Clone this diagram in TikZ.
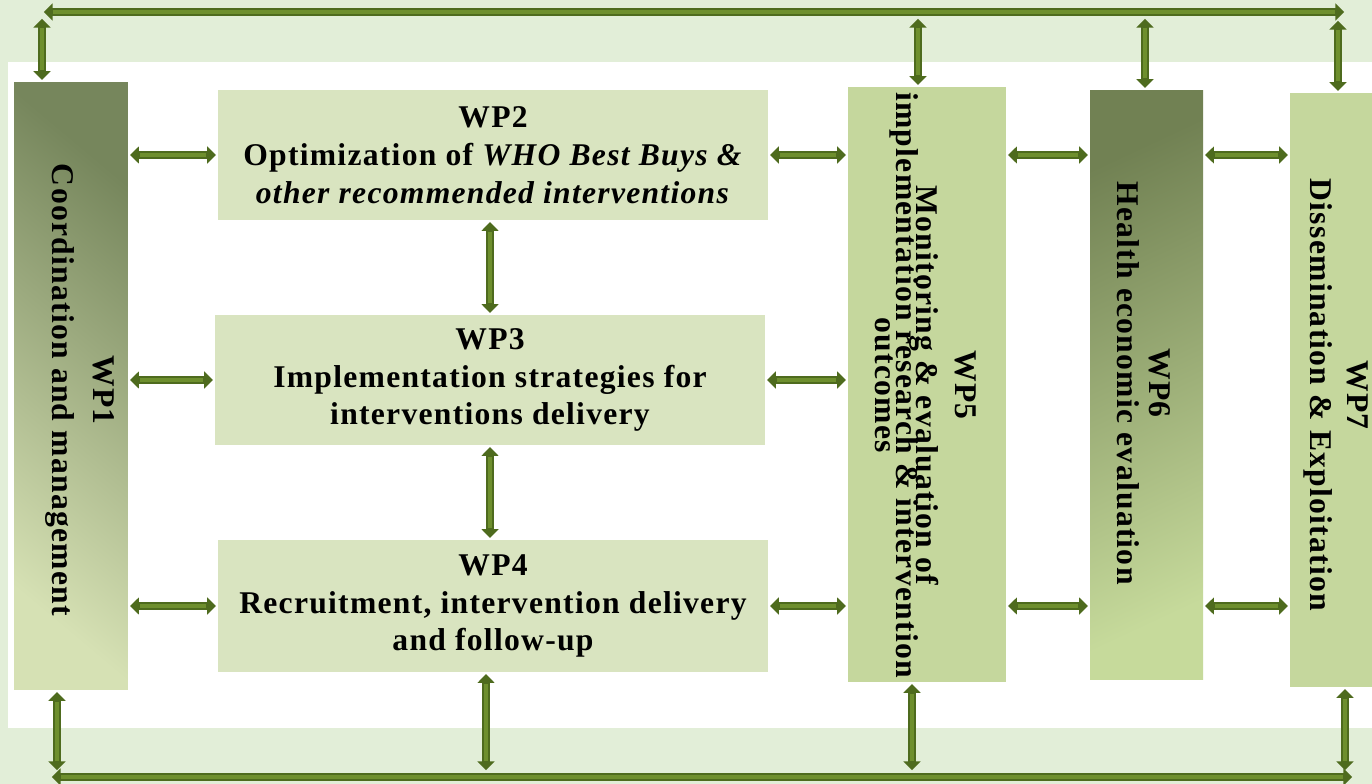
\documentclass[tikz,border=0pt]{standalone}
\usepackage{fontspec}
\setmainfont{Liberation Serif}[LetterSpace=4]
\usetikzlibrary{arrows.meta}
\definecolor{bg}{HTML}{E2EED8}
\definecolor{boxa}{HTML}{D9E4C0}
\definecolor{boxb}{HTML}{C5D79D}
\definecolor{arrdk}{HTML}{4E6B1E}
\definecolor{arrlt}{HTML}{6E8F2E}
\definecolor{wpdk}{HTML}{76865C}
\definecolor{wplt}{HTML}{D6E1B4}
\definecolor{sixdk}{HTML}{718153}
\definecolor{sixlt}{HTML}{C6DA9B}
\tikzset{
  dbl/.style={draw=arrdk, line width=4.5pt,
    {Triangle[length=5pt,width=9.5pt]}-{Triangle[length=5pt,width=9.5pt]},
    shorten <=1pt, shorten >=1pt,
    postaction={draw=arrlt, line width=1.8pt, -, shorten <=6.5pt, shorten >=6.5pt}},
  wpbox/.style={draw=none, inner sep=0pt, align=center,
    font=\fontsize{18}{21.5}\selectfont\bfseries},
  vtext/.style={rotate=-90, align=center, inner sep=0pt}
}
\begin{document}
\begin{tikzpicture}[x=0.02cm,y=-0.02cm]
\useasboundingbox (0,0) rectangle (1372,784);
\clip (0,0) rectangle (1372,784);
\fill[bg] (0,0) rectangle (1372,784);
\fill[white] (8,62) rectangle (1372,728);

% boxes
\node[wpbox, top color=wpdk, bottom color=wplt, shading angle=-40,
  minimum width=2.28cm, minimum height=12.16cm] (wp1) at (71,386) {};
\node[wpbox, fill=boxa, minimum width=11cm, minimum height=2.6cm] (wp2) at (493,155)
  {WP2\\Optimization of \textit{WHO Best Buys \&}\\\textit{other recommended interventions}};
\node[wpbox, fill=boxa, minimum width=11cm, minimum height=2.6cm] (wp3) at (490,380)
  {WP3\\Implementation strategies for\\interventions delivery};
\node[wpbox, fill=boxa, minimum width=11cm, minimum height=2.64cm] (wp4) at (493,606)
  {WP4\\Recruitment, intervention delivery\\and follow-up};
\node[wpbox, fill=boxb, minimum width=3.16cm, minimum height=11.9cm] (wp5) at (927,384.5) {};
\node[wpbox, top color=sixdk, bottom color=sixlt, shading angle=25,
  minimum width=2.26cm, minimum height=11.8cm] (wp6) at (1146.5,385) {};
\node[wpbox, fill=boxb, minimum width=3.2cm, minimum height=11.88cm] (wp7) at (1370,390) {};

% rotated texts
\node[vtext, font=\fontsize{18}{23}\selectfont\bfseries] (wp1t) at (80,390)
  {WP1\\Coordination and management};
\node[vtext, font={\fontsize{18}{11.5}\selectfont\bfseries\setlength{\lineskiplimit}{-100pt}}] (wp5t) at (926,385)
  {WP5\\[11pt]Monitoring \& evaluation of\\implementation research \& intervention\\outcomes};
\node[vtext, font=\fontsize{18}{18}\selectfont\bfseries] (wp6t) at (1144,383)
  {WP6\\Health economic evaluation};
\node[vtext, font=\fontsize{18}{21}\selectfont\bfseries] (wp7t) at (1336,395)
  {WP7\\Dissemination \& Exploitation};

% bus coordinates
\coordinate (tl) at (42,12);
\coordinate (tr) at (1346,12);
\coordinate (bl) at (50,777);
\coordinate (br) at (1354,777);
\coordinate (t1) at (42,17);
\coordinate (t5) at (918,17);
\coordinate (t6) at (1145,17);
\coordinate (t7) at (1338,19);
\coordinate (b1) at (57,772);
\coordinate (b4) at (486,772);
\coordinate (b5) at (912,772);
\coordinate (b7) at (1345,772);

% buses
\draw[dbl] (tl) -- (tr);
\draw[dbl] (bl) -- (br);
\draw[dbl] (t1) -- (t1 |- wp1.north);
\draw[dbl] (t5) -- (t5 |- wp5.north);
\draw[dbl] (t6) -- (t6 |- wp6.north);
\draw[dbl] (t7) -- (t7 |- wp7.north);
\draw[dbl] (b1 |- wp1.south) -- (b1);
\draw[dbl] (b4 |- wp4.south) -- (b4);
\draw[dbl] (b5 |- wp5.south) -- (b5);
\draw[dbl] (b7 |- wp7.south) -- (b7);

% horizontal links
\draw[dbl] (wp1.east |- wp2.west) -- (wp2.west);
\draw[dbl] (wp1.east |- wp3.west) -- (wp3.west);
\draw[dbl] (wp1.east |- wp4.west) -- (wp4.west);
\draw[dbl] (wp2.east) -- (wp2.east -| wp5.west);
\draw[dbl] (wp3.east) -- (wp3.east -| wp5.west);
\draw[dbl] (wp4.east) -- (wp4.east -| wp5.west);
\draw[dbl] (wp5.east |- wp2.east) -- (wp6.west |- wp2.east);
\draw[dbl] (wp5.east |- wp4.east) -- (wp6.west |- wp4.east);
\draw[dbl] (wp6.east |- wp2.east) -- (wp7.west |- wp2.east);
\draw[dbl] (wp6.east |- wp4.east) -- (wp7.west |- wp4.east);
% vertical links
\draw[dbl] (wp3.north |- wp2.south) -- (wp3.north);
\draw[dbl] (wp3.south) -- (wp3.south |- wp4.north);
\end{tikzpicture}
\end{document}
